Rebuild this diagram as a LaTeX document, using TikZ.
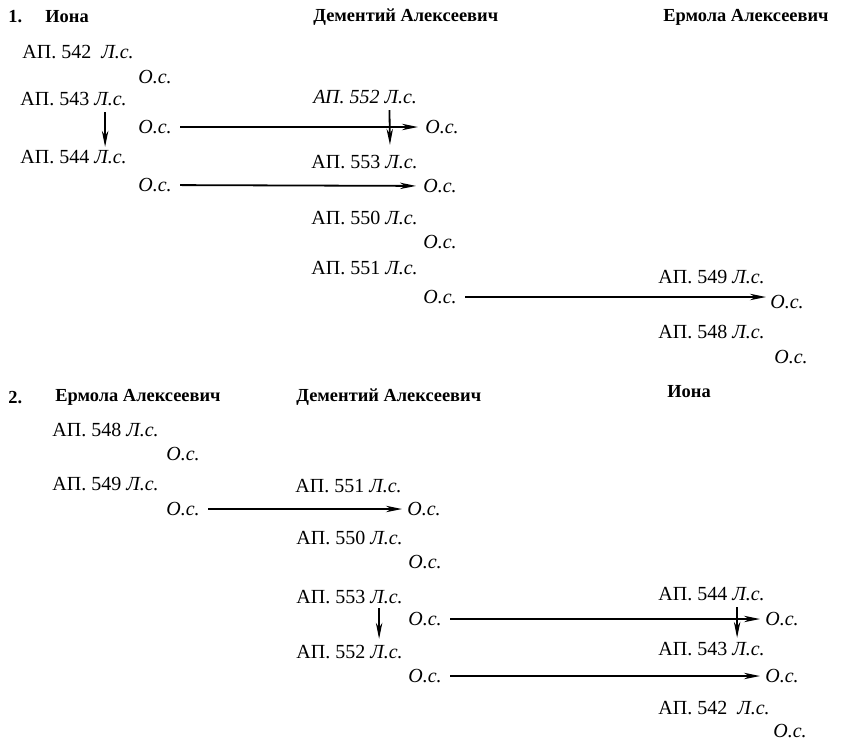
\documentclass[tikz,border=0pt]{standalone}
\usepackage{fontspec}
\setmainfont{Liberation Serif}
\usetikzlibrary{arrows.meta}

\newcommand\ls{\textit{Л.с.}}

\tikzset{
  ap/.style={anchor=west, inner sep=0pt, font=\fontsize{10}{12}\selectfont},
  os/.style={anchor=west, inner sep=0pt, font=\fontsize{10}{12}\selectfont\itshape},
  head/.style={anchor=west, inner sep=0pt, font=\fontsize{9.2}{11}\selectfont\bfseries},
  arr/.style={-{Stealth[length=8pt,width=3.2pt,inset=2.5pt]}, line width=0.9pt},
}

\begin{document}
\begin{tikzpicture}[x=0.5pt,y=-0.5pt]
        \clip (0,0) rectangle (841,740);

        \node[head] (n1) at (8,17) {1.};
        \node[head] (iona1) at (45,17) {Иона};
        \node[head] (dem1) at (313,17) {Дементий Алексеевич};
        \node[head] (erm1) at (663,17) {Ермола Алексеевич};

        \node[ap] (a542) at (22,52) {АП. 542\ \ \ls};
        \node[os] (o542) at (138,77) {О.с.};
        \node[ap] (a543) at (20,99) {АП. 543 \ls};
        \node[os] (o543) at (138,127) {О.с.};
        \node[ap] (a544) at (20,157) {АП. 544 \ls};
        \node[os] (o544) at (138,185) {О.с.};

        \node[ap] (a552) at (313,97) {\textit{АП. 552 Л.с.}};
        \node[os] (o552) at (425,127) {О.с.};
        \node[ap] (a553) at (311,162) {АП. 553 \ls};
        \node[os] (o553) at (423,186) {О.с.};
        \node[ap] (a550) at (311,218) {АП. 550 \ls};
        \node[os] (o550) at (423,242) {О.с.};
        \node[ap] (a551) at (311,268) {АП. 551 \ls};
        \node[os] (o551) at (423,297) {О.с.};

        \node[ap] (a549) at (658,277) {АП. 549 \ls};
        \node[os] (o549) at (770,302) {О.с.};
        \node[ap] (a548) at (658,332) {АП. 548 \ls};
        \node[os] (o548) at (774,357) {О.с.};

        \draw[arr, shorten <=3pt, shorten >=1.5pt] ([xshift=-11pt]a543.south east) -- ([xshift=-11pt]a544.north east);
        \draw[arr, shorten <=3pt, shorten >=5pt] ([xshift=-14pt]a552.south east) -- ([xshift=-14pt]a553.north east);
        \draw[arr, shorten <=4pt, shorten >=3.5pt] (o543) -- (o552);
        \draw[arr, shorten <=4pt, shorten >=3.5pt] (o544) -- (o553);
        \draw[arr, shorten <=4pt, shorten >=2pt] (o551.east) -- (o551 -| o549.west);

        \node[head] (n2) at (8,398) {2.};
        \node[head] (erm2) at (55,397) {Ермола Алексеевич};
        \node[head] (dem2) at (296,397) {Дементий Алексеевич};
        \node[head] (iona2) at (667,392) {Иона};

        \node[ap] (b548) at (52,430) {АП. 548 \ls};
        \node[os] (p548) at (166,454) {О.с.};
        \node[ap] (b549) at (52,484) {АП. 549 \ls};
        \node[os] (p549) at (166,509) {О.с.};

        \node[ap] (b551) at (295,486) {АП. 551 \ls};
        \node[os] (p551) at (407,509) {О.с.};
        \node[ap] (b550) at (296,538) {АП. 550 \ls};
        \node[os] (p550) at (408,562) {О.с.};
        \node[ap] (b553) at (296,597) {АП. 553 \ls};
        \node[os] (p553) at (408,619) {О.с.};
        \node[ap] (b552) at (296,652) {АП. 552 \ls};
        \node[os] (p552) at (408,676) {О.с.};

        \node[ap] (b544) at (658,594) {АП. 544 \ls};
        \node[os] (p544) at (765,619) {О.с.};
        \node[ap] (b543) at (658,649) {АП. 543 \ls};
        \node[os] (p543) at (765,676) {О.с.};
        \node[ap] (b542) at (658,708) {АП. 542\ \ \ls};
        \node[os] (p542) at (773,731) {О.с.};

        \draw[arr, shorten <=4pt, shorten >=2.5pt] (p549) -- (p551);
        \draw[arr, shorten <=2pt, shorten >=3pt] ([xshift=-12pt]b553.south east) -- ([xshift=-12pt]b552.north east);
        \draw[arr, shorten <=3pt, shorten >=2pt] ([xshift=-14pt]b544.south east) -- ([xshift=-14pt]b543.north east);
        \draw[arr, shorten <=4pt, shorten >=2.5pt] (p553) -- (p544);
        \draw[arr, shorten <=4pt, shorten >=2.5pt] (p552) -- (p543);
    \end{tikzpicture}
\end{document}
